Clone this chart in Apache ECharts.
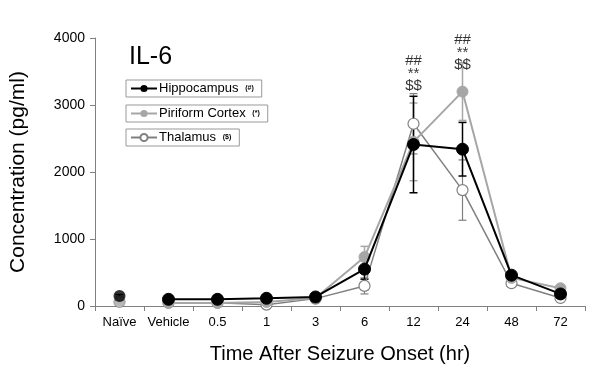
<!DOCTYPE html>
<html><head><meta charset="utf-8">
<script src="https://cdn.jsdelivr.net/npm/echarts@6/dist/echarts.min.js"></script>
<style>html,body{margin:0;padding:0;background:#fff}#c{width:600px;height:369px}</style>
</head><body><div id="c"></div>
<script>
const categories = ['Naïve','Vehicle','0.5','1','3','6','12','24','48','72'];
const hippo = [150,100,100,115,135,550,2410,2340,460,180];
const hippoErr = [20,20,20,20,20,150,720,400,50,40];
const piri = [70,45,45,60,120,730,2450,3200,420,265];
const piriErr = [15,15,15,15,15,160,580,430,40,30];
const thal = [60,50,50,20,110,300,2720,1730,340,120];
const thalErr = [15,15,15,15,15,120,450,450,50,30];
const annotCats = ['12','24'];
const annotBase = [3190,3500];
const annotText = ['##\n**\n$$','##\n**\n$$'];

const FONT = 'Liberation Sans, Arial, sans-serif';
const chart = echarts.init(document.getElementById('c'));

function lineData(arr){ return arr.map((v,i)=> i===0 ? '-' : v); }
function naiveData(arr){ return arr.map((v,i)=> i===0 ? v : '-'); }
function errSeries(vals, errs, color, w){
  return {
    type:'custom', silent:true, z:1,
    data: vals.map((v,i)=>[i, v, errs[i]]),
    renderItem: function(params, api){
      const x = api.value(0), v = api.value(1), e = api.value(2);
      const top = api.coord([x, v+e]), bot = api.coord([x, v-e]);
      const cw = 4;
      const st = {stroke:color, lineWidth:w};
      return {type:'group', children:[
        {type:'line', shape:{x1:top[0],y1:top[1],x2:bot[0],y2:bot[1]}, style:st},
        {type:'line', shape:{x1:top[0]-cw,y1:top[1],x2:top[0]+cw,y2:top[1]}, style:st},
        {type:'line', shape:{x1:bot[0]-cw,y1:bot[1],x2:bot[0]+cw,y2:bot[1]}, style:st}
      ]};
    }
  };
}
const HC = '#000000', PC = '#a6a6a6', TC = '#808080';
function legendCfg(name, suffix, top){
  return {
    data:[name], left:126, top:top, orient:'horizontal',
    itemWidth:26, itemHeight:9, itemGap:0,
    padding:[2,8,2,4], borderColor:'#999', borderWidth:1,
    formatter: n => '{a|'+n+'}  {b|'+suffix+'}',
    textStyle:{ padding:[0,0,0,-3], rich:{ a:{fontSize:13, fontFamily:FONT, color:'#000'}, b:{fontSize:7, fontWeight:'bold', fontFamily:FONT, color:'#000'} } }
  };
}
chart.setOption({
  animation:false,
  title:{ text:'IL-6', left:124, top:40, textStyle:{fontSize:25, fontWeight:'normal', fontFamily:FONT, color:'#000'} },
  legend:[ legendCfg('Hippocampus','(#)',80), legendCfg('Piriform Cortex','(*)',105), legendCfg('Thalamus','($)',129) ],
  grid:{ left:95, right:15, top:38, bottom:62 },
  xAxis:{
    type:'category', data:categories, boundaryGap:true,
    name:'Time After Seizure Onset (hr)', nameLocation:'middle', nameGap:38,
    nameTextStyle:{fontSize:20, fontFamily:FONT, color:'#000'},
    axisLine:{lineStyle:{color:'#808080', width:1}},
    axisTick:{show:true, inside:false, length:5, alignWithLabel:false, lineStyle:{color:'#808080'}},
    axisLabel:{fontSize:13, fontFamily:FONT, color:'#000', margin:10, interval:0}
  },
  yAxis:{
    type:'value', min:0, max:4000, interval:1000,
    name:'Concentration (pg/ml)', nameLocation:'middle', nameGap:66,
    nameTextStyle:{fontSize:21, fontFamily:FONT, color:'#000'},
    axisLine:{show:true, lineStyle:{color:'#808080', width:1}},
    axisTick:{show:true, length:5, lineStyle:{color:'#808080'}},
    splitLine:{show:false},
    axisLabel:{fontSize:14, fontFamily:FONT, color:'#000', margin:10, formatter: v => String(v)}
  },
  series:[
    errSeries(thal, thalErr, TC, 1.2),
    errSeries(piri, piriErr, PC, 1.5),
    errSeries(hippo, hippoErr, HC, 1.5),
    { name:'Thalamus', type:'line', data:lineData(thal), z:3, symbol:'circle', symbolSize:11,
      lineStyle:{color:TC, width:1.5}, itemStyle:{color:'#fff', borderColor:TC, borderWidth:1.2} },
    { name:'Piriform Cortex', type:'line', data:lineData(piri), z:4, symbol:'circle', symbolSize:11,
      lineStyle:{color:PC, width:2}, itemStyle:{color:PC, borderColor:PC} },
    { name:'Hippocampus', type:'line', data:lineData(hippo), z:5, symbol:'circle', symbolSize:12,
      lineStyle:{color:HC, width:2}, itemStyle:{color:HC, borderColor:HC} },
    { type:'scatter', data:naiveData(thal), z:3, symbol:'circle', symbolSize:11, itemStyle:{color:'#fff', borderColor:TC, borderWidth:1.2} },
    { type:'scatter', data:naiveData(piri), z:4, symbol:'circle', symbolSize:11, itemStyle:{color:PC} },
    { type:'scatter', data:naiveData(hippo), z:5, symbol:'circle', symbolSize:12, itemStyle:{color:HC} },
    { type:'scatter', silent:true, z:6, symbolSize:0,
      data: annotCats.map((c,i)=>({value:[c, annotBase[i]], label:{formatter:annotText[i]}})),
      label:{show:true, position:'top', distance:0, fontSize:15, lineHeight:12.5, fontFamily:FONT, color:'#000'} }
  ]
});
</script></body></html>
